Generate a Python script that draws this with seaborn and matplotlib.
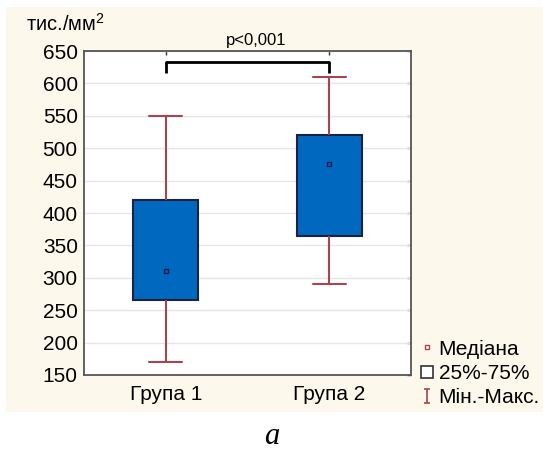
import numpy as np
import pandas as pd
import matplotlib
matplotlib.use("Agg")
import matplotlib.pyplot as plt
import seaborn as sns
from matplotlib.lines import Line2D
from matplotlib.path import Path
from matplotlib.patches import Rectangle

# ---- data (five-number summaries) ----
groups = ["Група 1", "Група 2"]
mins = [170, 290]
q1 = [265, 365]
medians = [310, 475]
q3 = [420, 520]
maxs = [550, 610]
yticks = [150, 200, 250, 300, 350, 400, 450, 500, 550, 600, 650]
legend_labels = ["Медіана", "25%-75%", "Мін.-Макс."]

rows = []
for g, a, b, c, d, e in zip(groups, mins, q1, medians, q3, maxs):
    for v in (a, b, c, d, e):
        rows.append({"group": g, "value": v})
df = pd.DataFrame(rows)

sns.set_theme(style="white")
plt.rcParams['font.family'] = ['Liberation Sans', 'DejaVu Sans']
plt.rcParams['text.color'] = 'black'
plt.rcParams['xtick.color'] = 'black'
plt.rcParams['ytick.color'] = 'black'
plt.rcParams['mathtext.fontset'] = 'custom'
plt.rcParams['mathtext.rm'] = 'Liberation Sans'
plt.rcParams['mathtext.it'] = 'Liberation Sans'

BOX = '#0068bf'
EDGE = '#1a2340'
WHISK = '#a8444f'

fig = plt.figure(figsize=(5.43, 4.53), dpi=100, facecolor='white')
fig.patches.append(Rectangle((0.011, 0.0905), 0.989, 0.894, transform=fig.transFigure,
                             facecolor='#fdf8ec', edgecolor='none', zorder=-10))
ax = fig.add_axes([0.1547, 0.1722, 0.6022, 0.7152])
ax.set_facecolor('white')

sns.boxplot(data=df, x="group", y="value", order=groups, whis=(0, 100), width=0.4,
            color=BOX, saturation=1, linecolor=EDGE, linewidth=1.5, showfliers=False,
            boxprops=dict(facecolor=BOX, edgecolor=EDGE, linewidth=1.5),
            whiskerprops=dict(color=WHISK, linewidth=1.5),
            capprops=dict(color=WHISK, linewidth=1.5),
            medianprops=dict(linewidth=0, alpha=0),
            ax=ax)

sns.scatterplot(x=groups, y=medians, marker='s', s=12, color='#2d4fa0',
                edgecolor='#1c2350', linewidth=1, ax=ax, zorder=5, legend=False)

# significance bracket
ax.plot([0, 0, 1, 1], [616, 633, 633, 616], color='black', lw=2, clip_on=False,
        solid_joinstyle='round', solid_capstyle='butt')

ax.set_xlim(-0.5, 1.5)
ax.set_ylim(150, 650)
ax.set_yticks(yticks)
ax.set_xlabel("")
ax.set_ylabel("")
ax.yaxis.grid(True, color='#e6e6e6', lw=1)
ax.xaxis.grid(False)
ax.set_axisbelow(True)
for s in ax.spines.values():
    s.set_color('#555555')
    s.set_linewidth(1.3)
ax.tick_params(axis='y', direction='out', length=3, width=1, color='#555555',
               labelsize=15, pad=1.5, labelcolor='black')
ax.tick_params(axis='x', direction='in', length=3, width=1, color='#555555',
               labelsize=15, pad=7, labelcolor='black')

sec_y = ax.secondary_yaxis('right')
sec_y.set_yticks(yticks)
sec_y.tick_params(direction='in', length=3, width=1, color='#333333', labelright=False)
sec_y.spines['right'].set_visible(False)
sec_x = ax.secondary_xaxis('top')
sec_x.set_xticks([0, 1])
sec_x.tick_params(direction='in', length=3, width=1, color='#333333', labeltop=False)
sec_x.spines['top'].set_visible(False)

# legend
I_path = Path([(-0.4, 1), (0.4, 1), (0, 1), (0, -1), (-0.4, -1), (0.4, -1)],
              [Path.MOVETO, Path.LINETO, Path.MOVETO, Path.LINETO, Path.MOVETO, Path.LINETO])
handles = [
    Line2D([], [], linestyle='none', marker='s', markersize=3.5, mfc='white', mec=WHISK, mew=1),
    Line2D([], [], linestyle='none', marker='s', markersize=8.6, mfc='white', mec='#333333', mew=1.2),
    Line2D([], [], linestyle='none', marker=I_path, markersize=10, mfc='none', mec=WHISK, mew=1.2),
]
fig.legend(handles, legend_labels, loc='lower left', bbox_to_anchor=(0.777, 0.1015),
           frameon=False, fontsize=15, handlelength=0.5, handletextpad=0.3,
           labelspacing=0.25, borderpad=0, borderaxespad=0, labelcolor='black')

fig.text(26 / 543, 1 - 24 / 453, "тис./мм$^{2}$", fontsize=14.5, va='center', ha='left')
fig.text(256 / 543, 1 - 41 / 453, "p<0,001", fontsize=12, va='center', ha='center')
fig.text(272 / 543, 1 - 437 / 453, "а", family=['Liberation Serif', 'DejaVu Serif'],
         style='italic', fontsize=22, va='center', ha='center')

fig.savefig('out.png', dpi=100)
